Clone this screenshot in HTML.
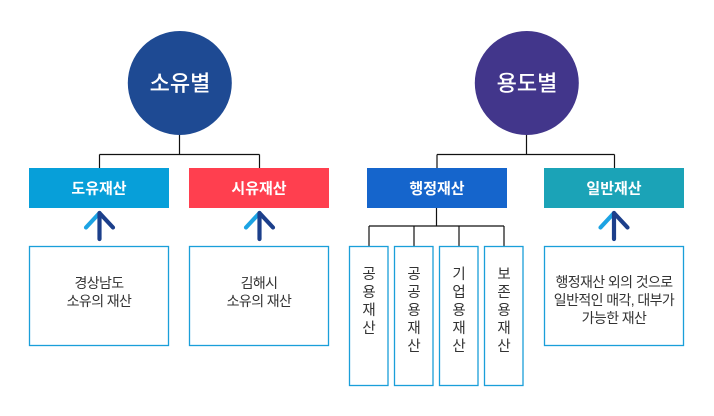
<!DOCTYPE html>
<html>
<head>
<meta charset="utf-8">
<style>
  html,body{margin:0;padding:0;background:#fff;}
  body{width:714px;height:416px;overflow:hidden;}
  svg{display:block;}
  text{font-family:"Liberation Sans","Noto Sans CJK KR","NanumGothic",sans-serif;}
</style>
</head>
<body>
<svg width="714" height="416" viewBox="0 0 714 416" xmlns="http://www.w3.org/2000/svg">
  <!-- connectors -->
  <g stroke="#111" stroke-width="1.2" fill="none">
    <path d="M179.5 134 V154.5 M99.5 154.5 H259.5 M99.5 154.5 V168 M259.5 154.5 V168"/>
    <path d="M526.5 134 V154.5 M437 154.5 H614.5 M437 154.5 V168 M614.5 154.5 V168"/>
    <path d="M436.5 208 V226 M369 226 H504 M369 226 V246 M414 226 V246 M459 226 V246 M504 226 V246"/>
  </g>

  <!-- circles -->
  <circle cx="179.8" cy="83" r="52" fill="#1e4a93"/>
  <circle cx="526.8" cy="83" r="52" fill="#42368b"/>
  <text x="180" y="91" text-anchor="middle" font-size="22" fill="#fff" font-weight="500">소유별</text>
  <text x="527" y="91" text-anchor="middle" font-size="22" fill="#fff" font-weight="500">용도별</text>

  <!-- header boxes -->
  <rect x="29" y="168" width="140" height="40" fill="#079fd9"/>
  <rect x="189" y="168" width="140" height="40" fill="#ff3f4f"/>
  <rect x="367" y="168" width="140" height="40" fill="#1565cc"/>
  <rect x="544" y="168" width="140" height="40" fill="#1ba3b7"/>
  <g font-size="15" font-weight="bold" fill="#fff" text-anchor="middle">
    <text x="99" y="193.5">도유재산</text>
    <text x="259" y="193.5">시유재산</text>
    <text x="437" y="193.5">행정재산</text>
    <text x="614" y="193.5">일반재산</text>
  </g>

  <!-- arrows -->
  <g stroke-width="4.2" stroke-linecap="round" fill="none">
    <g transform="translate(99.5,0)">
      <path d="M0 213 L-13.5 227.5" stroke="#1ca3e3"/>
      <path d="M0 213 L13.5 227.5 M0 213 V239" stroke="#1c3f8b"/>
    </g>
    <g transform="translate(259.5,0)">
      <path d="M0 213 L-13.5 227.5" stroke="#1ca3e3"/>
      <path d="M0 213 L13.5 227.5 M0 213 V239" stroke="#1c3f8b"/>
    </g>
    <g transform="translate(614,0)">
      <path d="M0 213 L-13.5 227.5" stroke="#1ca3e3"/>
      <path d="M0 213 L13.5 227.5 M0 213 V239" stroke="#1c3f8b"/>
    </g>
  </g>

  <!-- content boxes -->
  <g fill="none" stroke="#1a9fd9" stroke-width="1.3">
    <rect x="29.5" y="246.5" width="139" height="99"/>
    <rect x="189.5" y="246.5" width="139" height="99"/>
    <rect x="544.5" y="246.5" width="139" height="99"/>
    <rect x="349.5" y="246.5" width="38.5" height="139"/>
    <rect x="394.5" y="246.5" width="38.5" height="139"/>
    <rect x="439.5" y="246.5" width="38.5" height="139"/>
    <rect x="484.5" y="246.5" width="38.5" height="139"/>
  </g>

  <g font-size="14" fill="#333" text-anchor="middle" letter-spacing="-0.6">
    <text x="99" y="288">경상남도</text>
    <text x="99" y="306">소유의 재산</text>
    <text x="259" y="288">김해시</text>
    <text x="259" y="306">소유의 재산</text>
    <text x="614" y="287">행정재산 외의 것으로</text>
    <text x="614" y="305">일반적인 매각, 대부가</text>
    <text x="614" y="323">가능한 재산</text>
  </g>

  <!-- vertical texts -->
  <g font-size="14.5" fill="#333" text-anchor="middle">
    <text x="369" y="279">공</text>
    <text x="369" y="297">용</text>
    <text x="369" y="315">재</text>
    <text x="369" y="333">산</text>

    <text x="414" y="279">공</text>
    <text x="414" y="297">공</text>
    <text x="414" y="315">용</text>
    <text x="414" y="333">재</text>
    <text x="414" y="351">산</text>

    <text x="459" y="279">기</text>
    <text x="459" y="297">업</text>
    <text x="459" y="315">용</text>
    <text x="459" y="333">재</text>
    <text x="459" y="351">산</text>

    <text x="504" y="279">보</text>
    <text x="504" y="297">존</text>
    <text x="504" y="315">용</text>
    <text x="504" y="333">재</text>
    <text x="504" y="351">산</text>
  </g>
</svg>
</body>
</html>
